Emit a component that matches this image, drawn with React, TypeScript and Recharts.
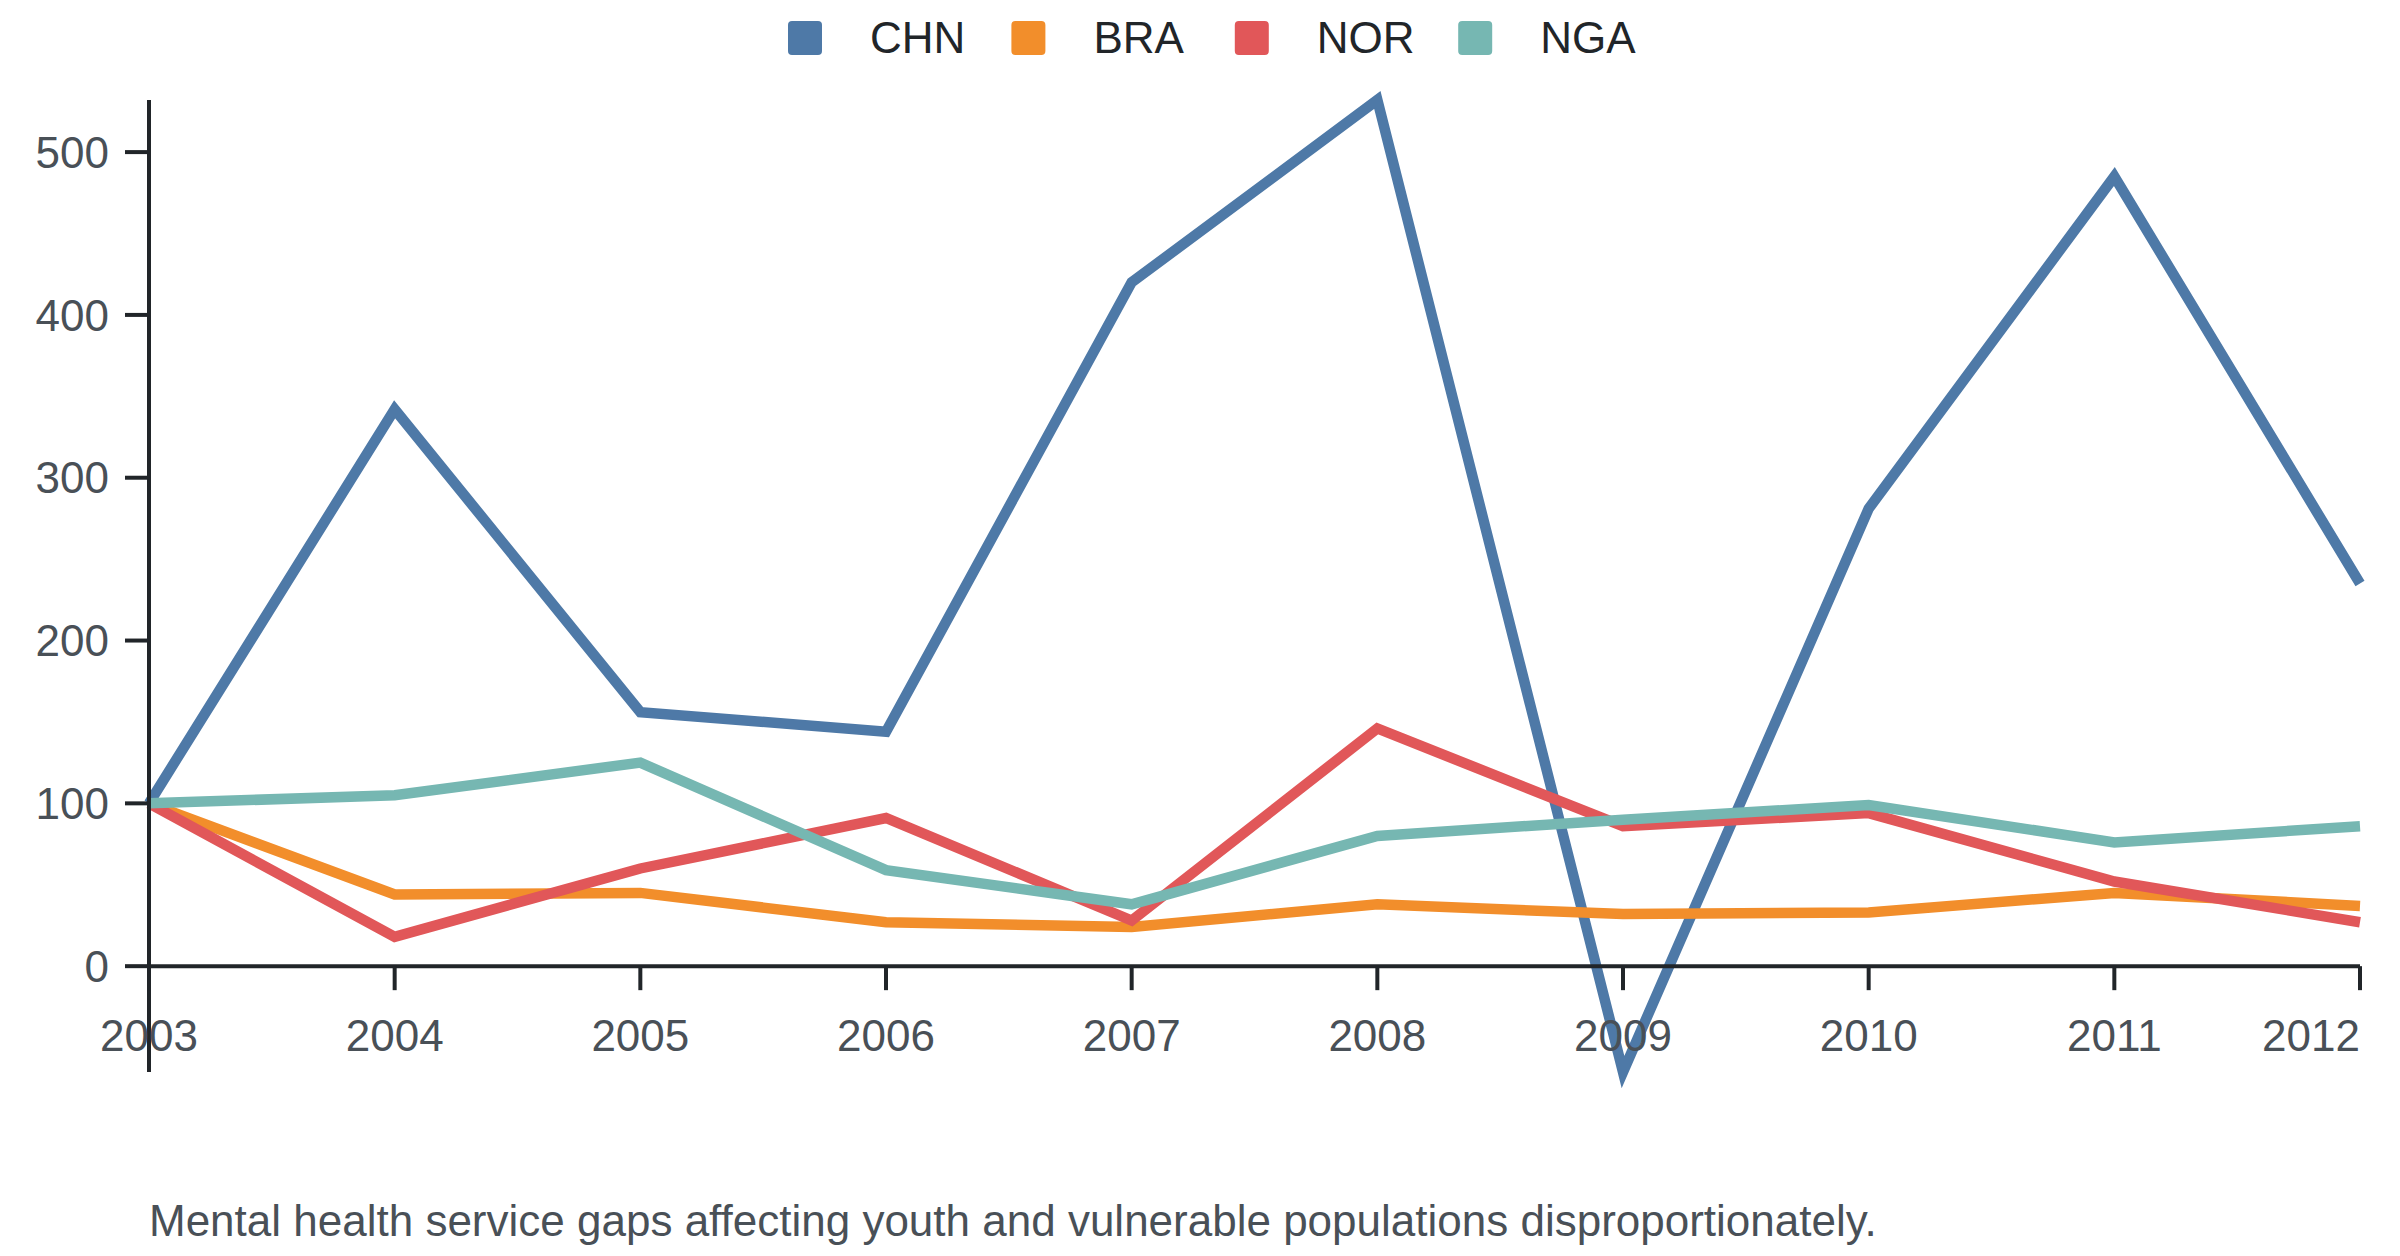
import React from "react";
import { LineChart, Line, XAxis, YAxis, ReferenceLine, ReferenceDot } from "recharts";

const years = ["2003", "2004", "2005", "2006", "2007", "2008", "2009", "2010", "2011", "2012"];
const chn = [100, 342, 156, 144, 420, 532, -65, 281, 485, 235];
const bra = [100, 44, 45, 27, 24, 38, 32, 33, 45, 37];
const nor = [100, 18, 60, 91, 28, 146, 86, 94, 52, 27];
const nga = [100, 105, 125, 59, 38, 80, 90, 99, 76, 86];
const yTicks = [0, 100, 200, 300, 400, 500];
const caption = "Mental health service gaps affecting youth and vulnerable populations disproportionately.";

const series = [
  { key: "CHN", values: chn, color: "#4e79a7" },
  { key: "BRA", values: bra, color: "#f28e2b" },
  { key: "NOR", values: nor, color: "#e15759" },
  { key: "NGA", values: nga, color: "#76b7b2" },
];

const data = years.map((year, i) => {
  const row: Record<string, string | number> = { year };
  series.forEach((s) => (row[s.key] = s.values[i]));
  return row;
});

const FONT = '"Liberation Sans", Arial, Helvetica, sans-serif';
const AXIS = "#212529";
const TEXT = "#495057";

// x axis sits on y=0, so each tick is a dot anchored at (year, 0)
function XTick(props: any) {
  const { cx, cy, label, last } = props;
  return (
    <g>
      <line x1={cx} x2={cx} y1={cy} y2={cy + 24} stroke={AXIS} strokeWidth={4} />
      <text
        x={cx}
        y={cy + 85}
        textAnchor={last ? "end" : "middle"}
        fill={TEXT}
        fontSize={44}
        fontFamily={FONT}
      >
        {label}
      </text>
    </g>
  );
}

export default function App() {
  return (
    <div style={{ position: "relative", width: 2400, height: 1256, fontFamily: FONT, background: "#fff" }}>
      <style>{`body{margin:0}`}</style>
      <LineChart width={2400} height={1256} data={data} margin={{ top: 100, right: 40, bottom: 184, left: 49 }}>
        <XAxis dataKey="year" hide />
        <YAxis
          width={100}
          domain={["dataMin", "dataMax"]}
          ticks={yTicks}
          tickSize={24}
          tickMargin={16}
          axisLine={{ stroke: AXIS, strokeWidth: 4 }}
          tickLine={{ stroke: AXIS, strokeWidth: 4 }}
          tick={{ fill: TEXT, fontSize: 44, fontFamily: FONT }}
        />
        {series.map((s) => (
          <Line
            key={s.key}
            dataKey={s.key}
            type="linear"
            stroke={s.color}
            strokeWidth={10.5}
            dot={false}
            activeDot={false}
            isAnimationActive={false}
          />
        ))}
        <ReferenceLine y={0} stroke={AXIS} strokeWidth={4} />
        {years.map((y, i) => (
          <ReferenceDot
            key={y}
            x={y}
            y={0}
            r={0}
            shape={(p: any) => <XTick {...p} label={y} last={i === years.length - 1} />}
          />
        ))}
      </LineChart>
      <svg width={2400} height={1256} style={{ position: "absolute", left: 0, top: 0, pointerEvents: "none" }}>
        {series.map((s, i) => (
          <g key={s.key} transform={`translate(${788 + i * 223.4}, 0)`}>
            <rect x={0} y={21} width={34} height={34} rx={4} fill={s.color} />
            <text x={82} y={53} fontSize={44} fontFamily={FONT} fill={AXIS}>
              {s.key}
            </text>
          </g>
        ))}
        <text x={149} y={1236} fontSize={44} fontFamily={FONT} fill={TEXT}>
          {caption}
        </text>
      </svg>
    </div>
  );
}
